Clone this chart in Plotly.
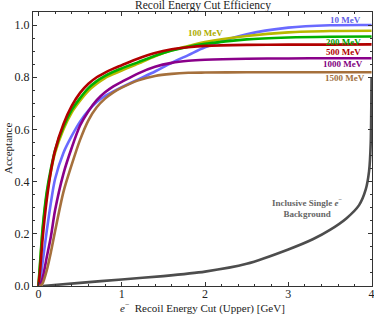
import plotly.graph_objects as go

# ---- data ----
x_cut = [0, 0.02, 0.05, 0.1, 0.15, 0.2, 0.3, 0.4, 0.5, 0.6, 0.7, 0.8, 0.9, 1.0,
         1.2, 1.4, 1.6, 1.8, 2.0, 2.5, 3.0, 3.5, 4.0]

acc_10 = [0, 0.02, 0.09, 0.21, 0.32, 0.41, 0.51, 0.575, 0.63, 0.672, 0.705, 0.728, 0.746, 0.762,
          0.792, 0.822, 0.855, 0.885, 0.915, 0.965, 0.99, 0.999, 1.0]
acc_100 = [0, 0.08, 0.21, 0.35, 0.44, 0.51, 0.60, 0.665, 0.71, 0.748, 0.775, 0.797, 0.812, 0.826,
           0.852, 0.88, 0.903, 0.92, 0.935, 0.958, 0.972, 0.977, 0.978]
acc_200 = [0, 0.09, 0.22, 0.36, 0.45, 0.52, 0.61, 0.675, 0.72, 0.758, 0.785, 0.805, 0.821, 0.834,
           0.858, 0.882, 0.902, 0.917, 0.928, 0.945, 0.952, 0.955, 0.956]
acc_500 = [0, 0.06, 0.18, 0.33, 0.44, 0.52, 0.62, 0.69, 0.74, 0.775, 0.80, 0.818, 0.833, 0.846,
           0.872, 0.893, 0.907, 0.915, 0.92, 0.924, 0.925, 0.925, 0.926]
acc_1000 = [0, 0.005, 0.03, 0.11, 0.19, 0.29, 0.43, 0.53, 0.615, 0.67, 0.712, 0.742, 0.765, 0.782,
            0.815, 0.84, 0.855, 0.863, 0.867, 0.871, 0.872, 0.873, 0.873]
acc_1500 = [0, 0, 0.01, 0.06, 0.13, 0.21, 0.36, 0.465, 0.56, 0.635, 0.685, 0.718, 0.742, 0.76,
            0.788, 0.805, 0.813, 0.817, 0.818, 0.819, 0.819, 0.819, 0.819]

x_bkg = [0.05, 0.5, 1.0, 1.5, 2.0, 2.5, 3.0, 3.3, 3.5, 3.7, 3.85, 3.93, 3.97, 3.99, 4.0]
acc_bkg = [0, 0.012, 0.025, 0.038, 0.055, 0.085, 0.14, 0.18, 0.215, 0.26, 0.31, 0.37, 0.44, 0.55, 0.8]

x_ticks = [0, 1, 2, 3, 4]
y_ticks = [0, 0.2, 0.4, 0.6, 0.8, 1.0]
y_ticktext = ["0.0", "0.2", "0.4", "0.6", "0.8", "1.0"]

series = [
    ("10 MeV", acc_10, "#6a6aff", "#5f5fe6", 3.685, 1.019),
    ("100 MeV", acc_100, "#b8b800", "#adad00", 2.005, 0.969),
    ("200 MeV", acc_200, "#00b000", "#00a000", 3.66, 0.936),
    ("500 MeV", acc_500, "#b20000", "#b00000", 3.66, 0.898),
    ("1000 MeV", acc_1000, "#8a008a", "#800080", 3.66, 0.851),
    ("1500 MeV", acc_1500, "#a5703c", "#a07040", 3.685, 0.797),
]

serif = "Liberation Serif, Times New Roman, serif"
txt = "#222222"

fig = go.Figure()
fig.add_trace(go.Scatter(x=x_bkg, y=acc_bkg, mode="lines",
                         line=dict(color="#4d4d4d", width=2.6, shape="spline", smoothing=0.6),
                         showlegend=False))
for name, ys, col, tcol, lx, ly in series:
    fig.add_trace(go.Scatter(x=x_cut, y=ys, mode="lines", name=name,
                             line=dict(color=col, width=2.6, shape="spline", smoothing=0.8),
                             showlegend=False))
    fig.add_annotation(x=lx, y=ly, text="<b>%s</b>" % name, showarrow=False,
                       font=dict(family=serif, size=9, color=tcol))

fig.add_annotation(x=3.226, y=0.30, text="<b>Inclusive Single <i>e</i><sup>−</sup><br>Background</b>",
                   showarrow=False, font=dict(family=serif, size=9, color="#666666"))

# titles as paper annotations
fig.add_annotation(xref="paper", yref="paper", x=0.5, y=1.0, yshift=7, yanchor="middle",
                   text="Recoil Energy Cut Efficiency", showarrow=False,
                   font=dict(family=serif, size=11.5, color=txt))
fig.add_annotation(xref="paper", yref="paper", x=0.5, y=0, yshift=-21, yanchor="middle",
                   text="<i>e</i><sup>−</sup>  Recoil Energy Cut (Upper) [GeV]", showarrow=False,
                   font=dict(family=serif, size=11, color=txt))
fig.add_annotation(xref="paper", yref="paper", x=0, xshift=-25, y=0.5, xanchor="center",
                   text="Acceptance", textangle=-90, showarrow=False,
                   font=dict(family=serif, size=11, color=txt))

axis_common = dict(showline=True, linecolor="#333333", linewidth=1, mirror="ticks",
                   ticks="inside", tickcolor="#333333", ticklen=4, showgrid=False, zeroline=False,
                   automargin=False, ticklabeloverflow="allow",
                   tickfont=dict(family=serif, size=12, color=txt))

fig.update_layout(
    width=374, height=316,
    margin=dict(l=33, r=2, t=12, b=30),
    paper_bgcolor="white", plot_bgcolor="white",
    xaxis=dict(range=[-0.065, 4.005], tickvals=x_ticks, ticktext=[str(v) for v in x_ticks],
               ticklabelstandoff=-3,
               minor=dict(ticks="inside", ticklen=2, dtick=0.2, tick0=0, tickcolor="#333333"),
               **axis_common),
    yaxis=dict(range=[0, 1.05], tickvals=y_ticks, ticktext=y_ticktext,
               minor=dict(ticks="inside", ticklen=2, dtick=0.05, tick0=0, tickcolor="#333333"),
               **axis_common),
)

fig.write_html("out.html", config={"displayModeBar": False},
               post_script="document.body.style.margin='0';document.body.style.padding='0';")
